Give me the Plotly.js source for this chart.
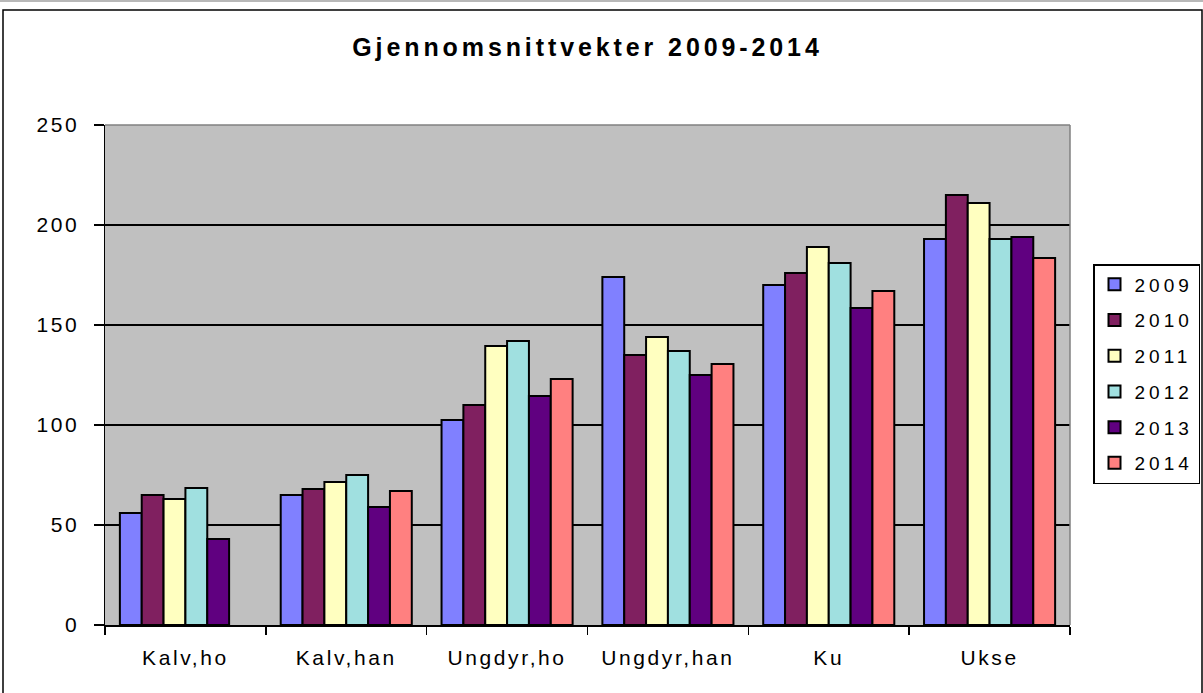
<!DOCTYPE html>
<html><head><meta charset="utf-8">
<script src="https://cdn.plot.ly/plotly-3.0.1.min.js"></script>
<style>
body{margin:0;background:#fff}#c{width:1203px;height:693px}
.xtick text,.ytick text{letter-spacing:2.6px}
.gtitle{letter-spacing:3.9px}
.legendtext{letter-spacing:4px}
</style>
</head><body><div id="c"></div>
<script>
const categories = ["Kalv,ho","Kalv,han","Ungdyr,ho","Ungdyr,han","Ku","Ukse"];
const years = ["2009","2010","2011","2012","2013","2014"];
const v2009 = [56, 65, 102.5, 174, 170, 193];
const v2010 = [65, 68, 110, 135, 176, 215];
const v2011 = [63, 71.5, 139.5, 144, 189, 211];
const v2012 = [68.5, 75, 142, 137, 181, 193];
const v2013 = [43, 59, 114.5, 125, 158.5, 194];
const v2014 = [null, 67, 123, 130.5, 167, 183.5];
const series = [v2009, v2010, v2011, v2012, v2013, v2014];
const colors = ["#8080FF","#802060","#FFFFC0","#A0E0E0","#600080","#FF8080"];

const traces = series.map((vals, i) => ({
  type: 'bar', name: years[i], x: categories, y: vals,
  legendgroup: 'g' + i,
  marker: {color: colors[i], line: {color: '#000', width: 2}},
  hoverinfo: 'x+y+name'
}));

const W = 965, H = 500, L = 105, T = 125;
const px = X => (X - L) / W;
const py = Y => (T + H - Y) / H;

const layout = {
  width: 1203, height: 693,
  margin: {l: L, r: 1203 - L - W, t: T, b: 693 - T - H, autoexpand: false},
  paper_bgcolor: '#fff', plot_bgcolor: '#C0C0C0',
  font: {family: 'Liberation Sans, Arial, sans-serif', color: '#000'},
  title: {text: '<b>Gjennomsnittvekter 2009-2014</b>', x: 0.5, xref: 'paper', y: 1 - 47/693, yanchor: 'middle',
          font: {size: 25, family: 'Liberation Sans, Arial, sans-serif', color: '#000'}},
  barmode: 'group', bargap: 0.185, bargroupgap: 0,
  xaxis: {type: 'category', tickson: 'boundaries', ticks: 'outside', ticklen: 8, tickcolor: '#000', tickwidth: 1.5,
          showline: true, linecolor: '#000', linewidth: 1.5, showgrid: false,
          tickfont: {size: 21}, ticklabelstandoff: 13},
  yaxis: {range: [0, 250], tickvals: [0,50,100,150,200,250], ticks: 'outside', ticklen: 10, tickcolor: '#000', tickwidth: 1.5,
          showline: true, linecolor: '#000', linewidth: 1.5, showgrid: true, gridcolor: '#000', gridwidth: 1.2,
          zeroline: false, tickfont: {size: 21}, ticklabelstandoff: 10},
  legend: {x: px(1093), xanchor: 'left', y: py(374), yanchor: 'middle', bgcolor: '#fff',
           bordercolor: '#000', borderwidth: 1.5, font: {size: 19}, traceorder: 'grouped', tracegroupgap: 8},
  shapes: [
    {type: 'line', xref: 'paper', yref: 'paper', x0: px(L), x1: px(L + W), y0: 1, y1: 1, line: {color: '#808080', width: 1.5}},
    {type: 'line', xref: 'paper', yref: 'paper', x0: 1, x1: 1, y0: 0, y1: 1, line: {color: '#808080', width: 1.5}},
    {type: 'rect', xref: 'paper', yref: 'paper', x0: px(3), x1: px(1202), y0: py(10), y1: py(700), line: {color: '#000', width: 1.5}},
    {type: 'line', xref: 'paper', yref: 'paper', x0: px(0), x1: px(1203), y0: py(1), y1: py(1), line: {color: '#A0A0A0', width: 1.5}}
  ],
  showlegend: true
};
Plotly.newPlot('c', traces, layout, {displayModeBar: false, staticPlot: true});
</script></body></html>
